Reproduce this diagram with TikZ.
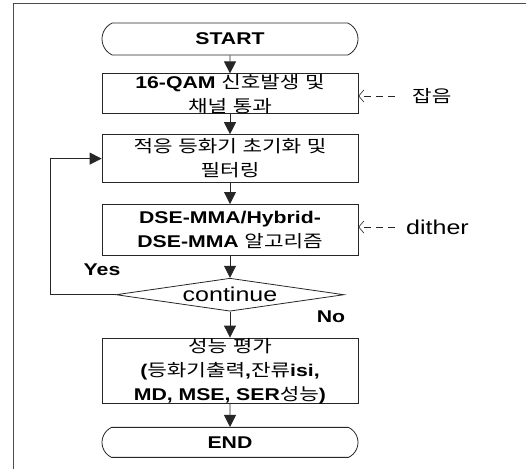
\documentclass[tikz,border=0pt]{standalone}
\usepackage{fontspec}
\setmainfont{Liberation Sans}[FakeStretch=1.25]
\newfontfamily\krfont{Noto Sans CJK KR}[FakeStretch=1.25]
\newcommand{\kor}[1]{{\krfont\mdseries #1}}
\usetikzlibrary{arrows.meta, positioning, shapes.geometric, shapes.misc}

\begin{document}
\begin{tikzpicture}[
    x=1pt, y=-1pt,
    font=\fontsize{17}{24}\selectfont,
    terminal/.style={
      rounded rectangle,
      rounded rectangle arc length=130,
      draw=black!85,
      line width=0.8pt,
      minimum width=256pt,
      minimum height=32pt,
      inner sep=0pt,
      font=\fontsize{17}{24}\selectfont\bfseries
    },
    procbox/.style={
      rectangle,
      draw=black!85,
      line width=0.8pt,
      text width=250pt,
      minimum width=256pt,
      align=center,
      inner sep=0pt
    },
    decision/.style={
      diamond,
      draw=black!85,
      line width=0.8pt,
      aspect=7,
      minimum width=228pt,
      minimum height=33pt,
      inner sep=0pt,
      font=\fontsize{20}{24}\selectfont
    },
    arrow/.style={
      -{Triangle[width=12pt,length=12pt]},
      line width=0.8pt,
      black!85
    },
    inarrow/.style={
      -{Straight Barb[width=12pt,length=5pt]},
      dash pattern=on 7pt off 5pt,
      line width=0.6pt,
      black!85
    },
    lbl/.style={font=\fontsize{17}{24}\selectfont\bfseries}
  ]

    \useasboundingbox (0,0) rectangle (526,469);

    % frame
    \draw[line width=1pt, black!70] (13,469) -- (13,3) -- (526,3);

    % flow
    \node[terminal] (start) at (230,39) {START};

    \node[procbox, minimum height=40pt, below=18pt of start] (box1) {
      \textbf{16-QAM} \kor{신호발생 및}\\
      \kor{채널 통과}
    };

    \node[procbox, minimum height=48pt, below=20pt of box1] (box2) {
      \kor{적응 등화기 초기화 및}\\
      \kor{필터링}
    };

    \node[procbox, minimum height=51pt, below=21pt of box2] (box3) {
      \textbf{DSE-MMA/Hybrid-}\\
      \textbf{DSE-MMA} \kor{알고리즘}
    };

    \node[decision, below=22pt of box3] (cont) {continue};

    \node[procbox, minimum height=65pt, below=26pt of cont] (box4) {
      \kor{성능 평가}\\
      \textbf{(}\kor{등화기출력}\textbf{,}\kor{잔류}\textbf{isi,}\\
      \textbf{MD, MSE, SER}\kor{성능}\textbf{)}
    };

    \node[terminal, minimum height=30pt, below=23pt of box4] (end) {END};

    % side inputs
    \node[anchor=west, inner sep=0pt] (noise) at (412,96) {\kor{잡음}};
    \node[anchor=west, inner sep=0pt, font=\fontsize{20}{24}\selectfont] (dither) at (406,227) {dither};

    % labels
    \node[lbl] (yes) at (102,270) {Yes};
    \node[lbl] (no) at (331,317) {No};

    % connections
    \draw[arrow] (start) -- (box1);
    \draw[arrow] (box1) -- (box2);
    \draw[arrow] (box2) -- (box3);
    \draw[arrow] (box3) -- (cont);
    \draw[arrow] (cont) -- (box4);
    \draw[arrow] (box4) -- (end);
    \draw[arrow] (cont.west) -- ++(-65,0) |- (box2.west);

    \draw[inarrow, shorten <=17pt] (noise.west) -- (box1.east |- noise.west);
    \draw[inarrow, shorten <=11pt] (dither.west) -- (box3.east |- dither.west);

  \end{tikzpicture}
\end{document}
